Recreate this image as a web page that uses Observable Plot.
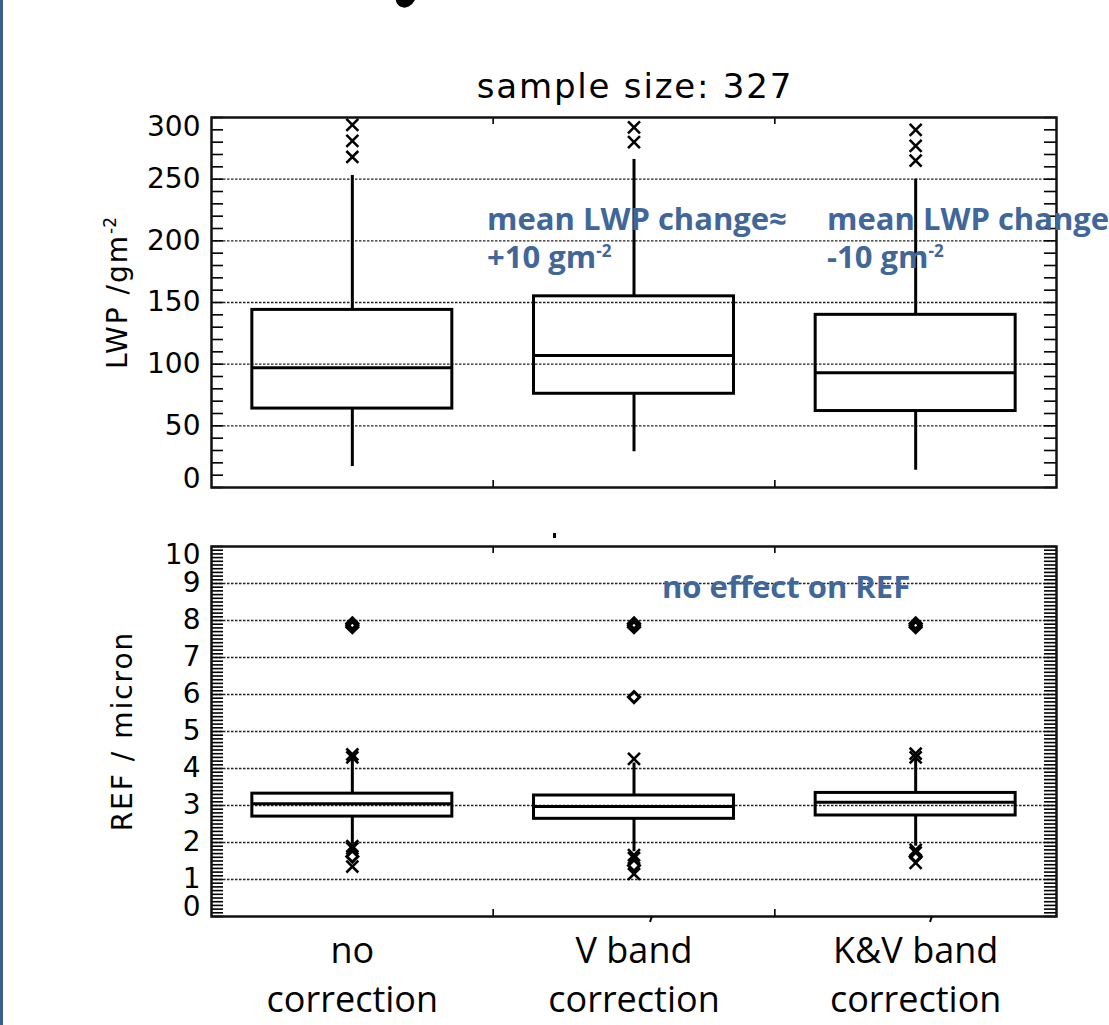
<!DOCTYPE html>
<html><head><meta charset="utf-8">
<script src="https://cdn.jsdelivr.net/npm/d3@7"></script>
<script src="https://cdn.jsdelivr.net/npm/@observablehq/plot@0.6"></script>
<style>
body{margin:0;background:#fff;}
#wrap{position:relative;width:1109px;height:1025px;overflow:hidden;background:#fff;font-family:"DejaVu Sans",sans-serif;color:#000;}
#wrap svg{position:absolute;left:0;overflow:visible;}
.abs{position:absolute;white-space:nowrap;}
.title{left:0;width:1270px;text-align:center;top:66px;font-size:34px;letter-spacing:1.8px;font-family:"DejaVu Sans",sans-serif;}
.ylab{font-size:28px;letter-spacing:2px;transform:translate(-50%,-50%) rotate(-90deg);transform-origin:center;font-family:"DejaVu Sans",sans-serif;}
.ylab sup{font-size:17px;letter-spacing:0;}
.note{font-family:"Open Sans",sans-serif;font-weight:700;color:#41669a;font-size:31px;line-height:38px;}
.note sup{font-size:17px;vertical-align:11px;line-height:0;}
</style></head><body><div id="wrap"></div>
<script>
// ---------- data ----------
const categories = ["no correction", "V band correction", "K&V band correction"];
const categoryLabels = ["no\ncorrection", "V band\ncorrection", "K&V band\ncorrection"];

// Top panel: LWP (g m^-2)
const lwpQ1     = [64, 76, 62];
const lwpMedian = [97, 107, 93];
const lwpQ3     = [144, 155, 140];
const lwpLow    = [17, 29, 14];
const lwpHigh   = [253, 266, 250];
const lwpOutliers = [[268, 281, 294], [280, 292], [265, 277, 290]];
const lwpTicks = [0, 50, 100, 150, 200, 250, 300];

// Bottom panel: REF (micron)
const refQ1     = [2.70, 2.64, 2.73];
const refMedian = [3.05, 2.97, 3.09];
const refQ3     = [3.32, 3.27, 3.34];
const refLow    = [1.95, 1.75, 1.90];
const refHigh   = [4.25, 4.15, 4.30];
const refCrosses  = [[4.30, 4.38, 1.90, 1.84, 1.35], [4.26, 1.66, 1.58, 1.15], [4.30, 4.40, 1.80, 1.73, 1.45]];
const refDiamonds = [[7.82, 7.87, 7.92, 1.62], [7.82, 7.87, 7.92, 5.93, 1.38], [7.82, 7.87, 7.92, 1.62]];
const refTicks = [0, 1, 2, 3, 4, 5, 6, 7, 8, 9, 10];

// ---------- helpers ----------
const W = 1109, mL = 211, mR = 53;
const FW = W - mL - mR;
const HALF = 0.355;
const boxRows = (q1, med, q3, lo, hi) => categories.map((c, i) => ({
  cat: c, x: i + 0.5, x1: i + 0.5 - HALF, x2: i + 0.5 + HALF,
  q1: q1[i], median: med[i], q3: q3[i], low: lo[i], high: hi[i]
}));
const flat = (arr) => arr.flatMap((vals, i) => vals.map(v => ({x: i + 0.5, v})));
const bounds = d3.range(1, categories.length);
const gridStyle = {stroke: "#222", strokeWidth: 1.3, strokeDasharray: "2.5,1.5"};
const tickFont = {fontSize: 28, fontFamily: "DejaVu Sans", fill: "#000"};

function panel({yDomain, ticks, minor, rows, crosses, diamonds, height, mT, mB, topDy, botDy, extra = []}) {
  const FH = height - mT - mB;
  const mid = ticks.slice(1, -1);
  return Plot.plot({
    width: W, height, marginLeft: mL, marginRight: mR, marginTop: mT, marginBottom: mB,
    x: {domain: [0, categories.length], axis: null},
    y: {domain: yDomain, axis: null},
    style: {background: "transparent", overflow: "visible"},
    marks: [
      Plot.ruleY(mid, gridStyle),
      Plot.ruleY(minor, {insetRight: FW - 12, stroke: "#000", strokeWidth: 1.6}),
      Plot.ruleY(minor, {insetLeft: FW - 12, stroke: "#000", strokeWidth: 1.6}),
      Plot.ruleX(bounds, {insetBottom: FH - 7, stroke: "#000", strokeWidth: 1.6}),
      Plot.ruleX(bounds, {insetTop: FH - 7, stroke: "#000", strokeWidth: 1.6}),
      Plot.ruleX(rows, {x: "x", y1: "low", y2: "q1", stroke: "#000", strokeWidth: 3}),
      Plot.ruleX(rows, {x: "x", y1: "q3", y2: "high", stroke: "#000", strokeWidth: 3}),
      Plot.rect(rows, {x1: "x1", x2: "x2", y1: "q1", y2: "q3", fill: "none", stroke: "#000", strokeWidth: 3}),
      Plot.ruleY(rows, {y: "median", x1: "x1", x2: "x2", stroke: "#000", strokeWidth: 3}),
      Plot.dot(flat(crosses), {x: "x", y: "v", symbol: "times", r: 5.5, stroke: "#000", strokeWidth: 2.6}),
      Plot.dot(flat(diamonds), {x: "x", y: "v", symbol: "diamond2", r: 5, stroke: "#000", fill: "none", strokeWidth: 3}),
      Plot.frame({stroke: "#111", strokeWidth: 2.5}),
      Plot.text(mid, {y: d => d, text: d => String(d), frameAnchor: "left", textAnchor: "end", dx: -11, ...tickFont}),
      Plot.text(ticks.slice(-1), {y: d => d, text: d => String(d), frameAnchor: "left", textAnchor: "end", dx: -11, dy: topDy, ...tickFont}),
      Plot.text(ticks.slice(0, 1), {y: d => d, text: d => String(d), frameAnchor: "left", textAnchor: "end", dx: -11, dy: botDy, ...tickFont}),
      ...extra
    ]
  });
}

const wrap = document.getElementById("wrap");

// top panel
const p1 = panel({
  yDomain: [0, 300], ticks: lwpTicks, minor: d3.range(0, 301, 10),
  rows: boxRows(lwpQ1, lwpMedian, lwpQ3, lwpLow, lwpHigh),
  crosses: lwpOutliers, diamonds: [[], [], []],
  height: 500, mT: 117, mB: 13, topDy: 10, botDy: -8
});
p1.style.top = "0px";
wrap.appendChild(p1);

// bottom panel
const p2 = panel({
  yDomain: [0, 10], ticks: refTicks, minor: d3.range(0, 101).map(d => d / 10),
  rows: boxRows(refQ1, refMedian, refQ3, refLow, refHigh),
  crosses: refCrosses, diamonds: refDiamonds,
  height: 525, mT: 46, mB: 109, topDy: 9, botDy: -9,
  extra: [
    Plot.text(categoryLabels, {
      x: (d, i) => i + 0.5, text: d => d, frameAnchor: "bottom", lineAnchor: "top",
      dy: 11, lineHeight: 1.38, fontSize: 36, fontFamily: "Open Sans", fill: "#000"
    })
  ]
});
p2.style.top = "500px";
wrap.appendChild(p2);

// html overlays
wrap.insertAdjacentHTML("beforeend", `
  <div class="abs" style="left:0;top:0;width:3px;height:1025px;background:#3b5d8c;"></div>
  <div class="abs" style="left:396px;top:-17px;width:20px;height:25px;background:#000;border-radius:50%;transform:rotate(25deg);"></div>
  <div class="abs title">sample size: 327</div>
  <div class="abs ylab" style="left:117px;top:293px;">LWP /gm<sup>-2</sup></div>
  <div class="abs ylab" style="left:122px;top:731px;">REF / micron</div>
  <div class="abs note" style="left:487px;top:199px;">mean LWP change≈<br>+10 gm<sup>-2</sup></div>
  <div class="abs note" style="left:827px;top:199px;">mean LWP change<br>-10 gm<sup>-2</sup></div>
  <div class="abs note" style="left:662px;top:567px;">no effect on REF</div>
  <div class="abs" style="left:553px;top:533px;width:3px;height:5px;background:#000;"></div>
  <div class="abs" style="left:650px;top:916px;width:2px;height:6px;background:#000;transform:rotate(20deg);"></div>
  <div class="abs" style="left:930px;top:916px;width:2px;height:6px;background:#000;transform:rotate(20deg);"></div>
`);
</script>
</body></html>
